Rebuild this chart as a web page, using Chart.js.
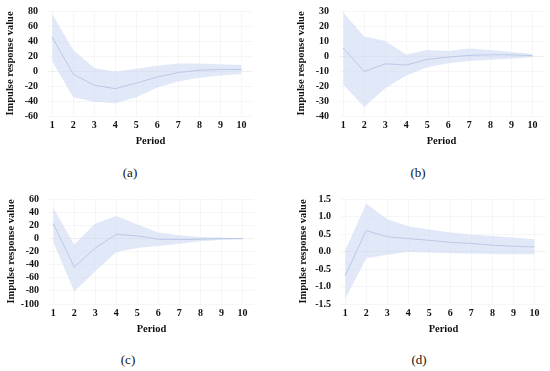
<!DOCTYPE html>
<html>
<head>
<meta charset="utf-8">
<script src="https://cdn.jsdelivr.net/npm/chart.js@4"></script>
<style>
  html, body { margin: 0; padding: 0; background: #fff; overflow: hidden; }
  body { width: 550px; height: 371px; position: relative; }
  .panel { position: absolute; width: 262px; height: 150px; }
  .cap { position: absolute; width: 40px; text-align: center; font-family: 'Liberation Serif', serif; font-size: 13px; color: #111; }
</style>
</head>
<body>
<div class="panel" style="left:0;top:0"><canvas id="chartA"></canvas></div>
<div class="panel" style="left:291px;top:0"><canvas id="chartB"></canvas></div>
<div class="panel" style="left:1px;top:188px"><canvas id="chartC"></canvas></div>
<div class="panel" style="left:293px;top:188px"><canvas id="chartD"></canvas></div>
<div class="cap" style="left:110px;top:165px">(a)</div>
<div class="cap" style="left:398px;top:165px">(b)</div>
<div class="cap" style="left:108px;top:352px">(c)</div>
<div class="cap" style="left:399px;top:352px">(d)</div>
<script>
/* Impulse response panels: response line with confidence band */

const periods = [1, 2, 3, 4, 5, 6, 7, 8, 9, 10];

const respA  = [45, -4, -19, -23.5, -16, -8, -2, 1, 2, 2];
const upperA = [76, 28, 4, -1, 3, 7, 10, 10, 9, 8];
const lowerA = [13, -35, -41, -43, -35, -22, -14, -9, -6, -4];

const respB  = [5.3, -10.4, -5.2, -6, -2.3, -0.7, 0.4, 0.8, 0.8, 0.2];
const upperB = [29, 13, 10, 1, 4, 3.3, 5, 4, 2.6, 1.5];
const lowerB = [-19, -34, -21.5, -13, -7.5, -4.8, -3.4, -2.5, -1.8, -0.8];

const respC  = [22.7, -43.8, -14.6, 6.3, 3.8, -1.3, -1.8, -1.3, -0.3, -0.3];
const upperC = [46.7, -9.5, 22.7, 34, 21, 9, 4.8, 2.2, 1.2, 0.7];
const lowerC = [-5.4, -81, -50, -20.8, -14.6, -11.6, -8, -4.4, -2.3, -1.3];

const respD  = [-0.69, 0.6, 0.42, 0.37, 0.32, 0.26, 0.23, 0.18, 0.15, 0.13];
const upperD = [0.03, 1.37, 0.92, 0.72, 0.63, 0.54, 0.48, 0.44, 0.4, 0.35];
const lowerD = [-1.36, -0.19, -0.09, -0.01, -0.03, -0.05, -0.06, -0.07, -0.08, -0.08];

const FONT = "'Liberation Serif', serif";
const LINE_COLOR = '#9fb3d8';
const BAND_COLOR = 'rgba(205, 216, 242, 0.6)';

const toPts = vals => vals.map((v, i) => ({ x: periods[i], y: v }));

function makeIrfChart(id, resp, upper, lower, yMin, yMax, step, decimals) {
  const ctx = document.getElementById(id);
  return new Chart(ctx, {
    type: 'line',
    data: {
      datasets: [
        { data: toPts(lower), borderWidth: 0, pointRadius: 0, fill: false, tension: 0 },
        { data: toPts(upper), borderWidth: 0, pointRadius: 0, backgroundColor: BAND_COLOR, fill: '-1', tension: 0 },
        { data: toPts(resp), borderColor: LINE_COLOR, borderWidth: 1, pointRadius: 0, fill: false, tension: 0 }
      ]
    },
    options: {
      responsive: false,
      animation: false,
      layout: { padding: { top: 11, right: 9, left: 0, bottom: 0 } },
      plugins: { legend: { display: false }, tooltip: { enabled: false } },
      scales: {
        x: {
          type: 'linear',
          min: 0.8,
          max: 10.55,
          afterBuildTicks: axis => { axis.ticks = periods.map(p => ({ value: p })); },
          afterFit: axis => { axis.height = 34; },
          grid: { color: 'rgba(0,0,0,0.035)', drawTicks: false },
          border: { display: false },
          ticks: {
            color: '#111',
            padding: 3,
            maxRotation: 0,
            autoSkip: false,
            font: { family: FONT, size: 10, weight: 'bold' }
          },
          title: {
            display: true,
            text: 'Period',
            color: '#111',
            padding: { top: 4, bottom: 2 },
            font: { family: FONT, size: 10.5, weight: 'bold' }
          }
        },
        y: {
          min: yMin,
          max: yMax,
          afterFit: axis => { axis.width = 48; },
          grid: {
            color: c => c.tick && c.tick.value === 0 ? 'rgba(0,0,0,0.06)' : 'rgba(0,0,0,0.035)',
            drawTicks: true,
            tickLength: 10,
            tickColor: 'rgba(0,0,0,0)'
          },
          border: { display: false },
          ticks: {
            stepSize: step,
            autoSkip: false,
            color: '#111',
            padding: 0,
            font: { family: FONT, size: 10, weight: 'bold' },
            callback: v => Number(v).toFixed(decimals)
          },
          title: {
            display: true,
            text: 'Impulse response value',
            color: '#111',
            padding: { top: 4, bottom: 4 },
            font: { family: FONT, size: 10.5, weight: 'bold' }
          }
        }
      }
    }
  });
}

function sizeCanvas(id) {
  const c = document.getElementById(id);
  c.width = 262;
  c.height = 150;
  c.style.width = '262px';
  c.style.height = '150px';
}

['chartA', 'chartB', 'chartC', 'chartD'].forEach(sizeCanvas);

function drawAll() {
  makeIrfChart('chartA', respA, upperA, lowerA, -60, 80, 20, 0);
  makeIrfChart('chartB', respB, upperB, lowerB, -40, 30, 10, 0);
  makeIrfChart('chartC', respC, upperC, lowerC, -100, 60, 20, 0);
  makeIrfChart('chartD', respD, upperD, lowerD, -1.5, 1.5, 0.5, 1);
}

Promise.all([
  document.fonts.load("bold 10px 'Liberation Serif'"),
  document.fonts.load("13px 'Liberation Serif'")
]).then(drawAll, drawAll);
</script>
</body>
</html>
